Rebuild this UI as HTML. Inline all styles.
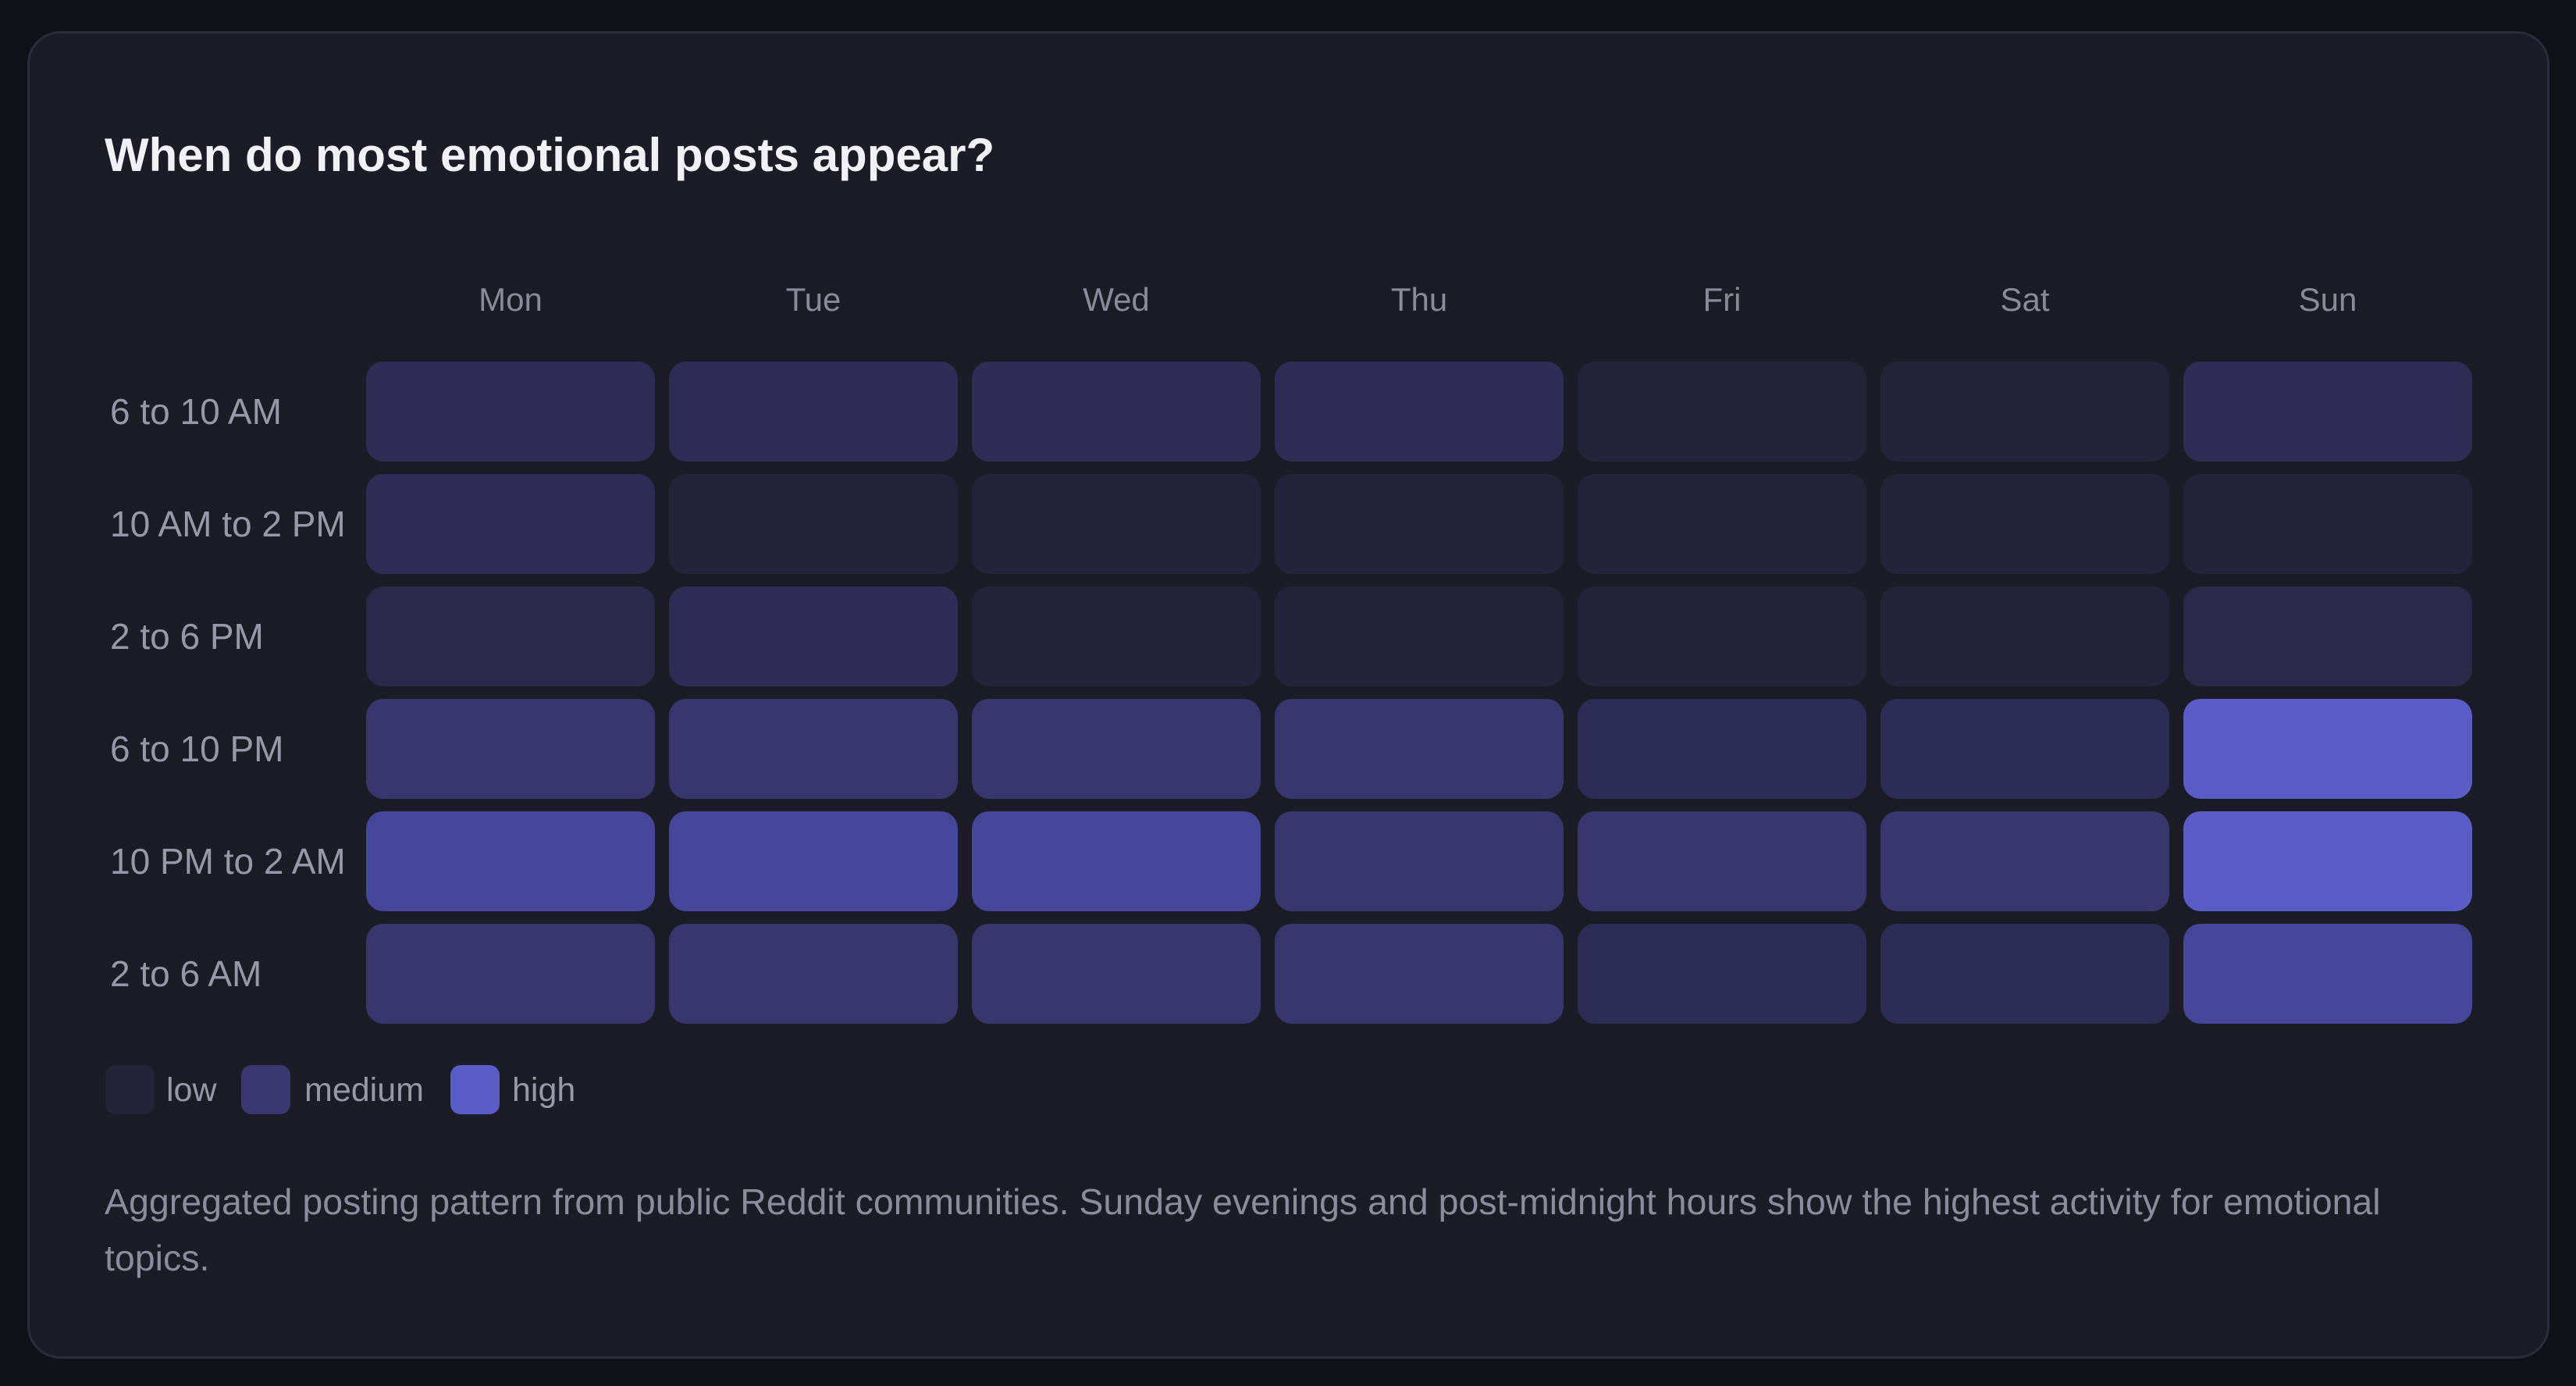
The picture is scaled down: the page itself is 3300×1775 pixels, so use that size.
<!DOCTYPE html>
<html><head><meta charset="utf-8"><style>
*{margin:0;padding:0;box-sizing:border-box}
body{width:3300px;height:1775px;background:#111118;font-family:"Liberation Sans",sans-serif;position:relative;overflow:hidden}
.card{position:absolute;left:35px;top:40px;width:3231px;height:1700px;background:#1c1c26;border:3px solid #2c2c3c;border-radius:42px}
.t{position:absolute;white-space:nowrap}
.title{left:134px;top:164px;font-size:60px;font-weight:bold;color:#f0f0f5}
.day{top:360px;font-size:42px;color:#8a8a9c;width:370px;text-align:center}
.row{left:141px;font-size:46px;color:#9898aa;line-height:128px}
.c{position:absolute;width:370px;height:128px;border-radius:22px}
.lg{position:absolute;top:1364px;width:63px;height:63px;border-radius:13px}
.lt{top:1368px;font-size:43px;color:#9898aa;line-height:56px}
.foot{left:134px;top:1503px;font-size:46.5px;color:#8c8c9e;line-height:72px}
</style></head><body>
<div class="card"></div>
<div class="t title">When do most emotional posts appear?</div>
<div id="g"></div>
<div class="lg" style="left:135px;background:#242339"></div><div class="t lt" style="left:213px">low</div>
<div class="lg" style="left:309px;background:#3a3870"></div><div class="t lt" style="left:390px">medium</div>
<div class="lg" style="left:577px;background:#5a5cc8"></div><div class="t lt" style="left:656px">high</div>
<div class="t foot">Aggregated posting pattern from public Reddit communities. Sunday evenings and post-midnight hours show the highest activity for emotional<br>topics.</div>
<script>
var days=["Mon","Tue","Wed","Thu","Fri","Sat","Sun"];
var rows=["6 to 10 AM","10 AM to 2 PM","2 to 6 PM","6 to 10 PM","10 PM to 2 AM","2 to 6 AM"];
var C={1:"#24233a",2:"#2d2d55",15:"#29294a",25:"#2c2d56",3:"#38376d",4:"#46469a",5:"#5a5cc8"};
var v=[[2,2,2,2,1,1,2],[2,1,1,1,1,1,1],[15,2,1,1,1,1,15],[3,3,3,3,25,25,5],[4,4,4,3,3,3,5],[3,3,3,3,25,25,4]];
var h="";
for(var i=0;i<7;i++)h+='<div class="t day" style="left:'+(469+i*388)+'px">'+days[i]+'</div>';
for(var r=0;r<6;r++){var y=463+r*144;h+='<div class="t row" style="top:'+y+'px">'+rows[r]+'</div>';
for(var i=0;i<7;i++)h+='<div class="c" style="left:'+(469+i*388)+'px;top:'+y+'px;background:'+C[v[r][i]]+'"></div>';}
document.getElementById("g").innerHTML=h;
</script>
</body></html>
